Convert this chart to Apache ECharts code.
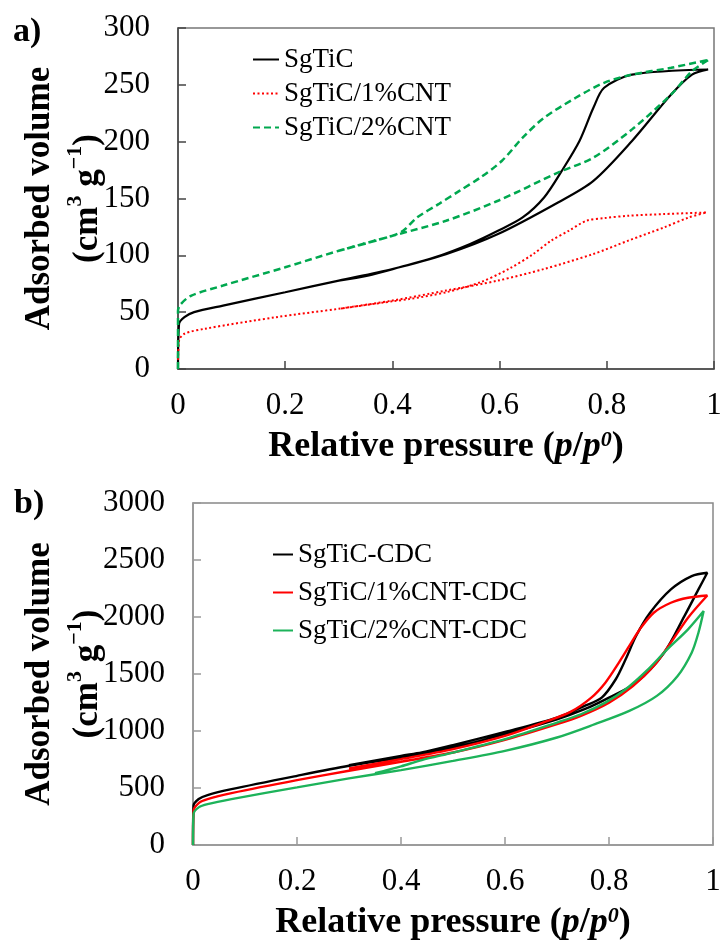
<!DOCTYPE html>
<html>
<head>
<meta charset="utf-8">
<script src="https://cdn.jsdelivr.net/npm/echarts@6/dist/echarts.min.js"></script>
<style>
html,body{margin:0;padding:0;background:#fff;}
#chart{width:723px;height:944px;}
</style>
</head>
<body>
<div id="chart"></div>
<script>
// ---------- Panel a data: [relative pressure, adsorbed volume] ----------
const sgticAds = [[0,0],[0.002,39.8],[0.012,45.6],[0.03,50],[0.084,55.8],[0.2,67.5],[0.3,77.8],[0.4,88],[0.5,101],[0.597,118.7],[0.709,146.5],[0.775,165.5],[0.847,200.6],[0.92,241.5],[0.959,259],[0.989,263.5]];
const sgticDes = [[0.989,263.5],[0.847,259],[0.795,247.4],[0.775,229.8],[0.749,200.6],[0.716,174.3],[0.683,150.9],[0.643,133.3],[0.597,121.6],[0.545,110],[0.479,98.2],[0.413,89.5],[0.354,82.2],[0.3,77.8]];
const cnt1Ads = [[0,0],[0.002,25],[0.012,31],[0.05,35.4],[0.183,45.6],[0.3,53],[0.4,60.2],[0.5,69],[0.597,77.8],[0.683,88],[0.775,101.2],[0.84,112.9],[0.907,124.6],[0.953,133.3],[0.986,137.7]];
const cnt1Des = [[0.986,137.7],[0.907,136.3],[0.84,134.8],[0.795,132.7],[0.762,130.4],[0.729,121.6],[0.696,112.9],[0.663,101.2],[0.617,88],[0.564,76.3],[0.5,67.5],[0.433,61.7],[0.4,59.6],[0.3,53]];
const cnt2Ads = [[0,0],[0.0,51],[0.005,57],[0.025,64.6],[0.084,73.4],[0.2,89.5],[0.3,104],[0.4,117.2],[0.5,130.4],[0.597,148],[0.709,172.8],[0.775,186],[0.847,210.8],[0.92,241.5],[0.959,262],[0.991,272.2]];
const cnt2Des = [[0.991,272.2],[0.92,265],[0.847,259],[0.795,251.8],[0.742,238.6],[0.683,221],[0.643,203.5],[0.604,183],[0.564,168.4],[0.525,156.7],[0.486,145],[0.446,133.3],[0.42,121.6],[0.4,117.2],[0.3,104]];

// ---------- Panel b data ----------
const cdcAds = [[0,0],[0.001,344],[0.011,403],[0.028,438],[0.074,490],[0.2,607],[0.3,695],[0.4,768],[0.5,855],[0.6,972],[0.7,1103],[0.753,1191],[0.8,1293],[0.852,1424],[0.906,1687],[0.945,2008],[0.972,2242],[0.989,2388]];
const cdcDes = [[0.989,2388],[0.959,2359],[0.919,2242],[0.879,2037],[0.852,1833],[0.832,1629],[0.813,1454],[0.786,1293],[0.753,1220],[0.7,1118],[0.6,992],[0.5,876],[0.44,811],[0.4,782],[0.3,700]];
const cdc1Ads = [[0,0],[0.001,300],[0.011,368],[0.028,403],[0.074,455],[0.2,569],[0.3,651],[0.4,730],[0.5,811],[0.6,922],[0.7,1060],[0.746,1133],[0.8,1249],[0.846,1395],[0.886,1570],[0.919,1775],[0.952,1994],[0.989,2189]];
const cdc1Des = [[0.989,2189],[0.952,2169],[0.919,2125],[0.886,2037],[0.859,1891],[0.839,1746],[0.819,1600],[0.793,1424],[0.766,1293],[0.726,1168],[0.673,1074],[0.6,957],[0.5,841],[0.4,753],[0.3,671]];
const cdc2Ads = [[0,0],[0.001,271],[0.011,330],[0.028,359],[0.074,403],[0.2,505],[0.3,584],[0.4,657],[0.5,738],[0.6,826],[0.7,943],[0.773,1060],[0.839,1176],[0.892,1308],[0.932,1483],[0.959,1687],[0.972,1862],[0.982,2052]];
const cdc2Des = [[0.982,2052],[0.952,1892],[0.912,1716],[0.872,1527],[0.832,1366],[0.793,1249],[0.746,1147],[0.7,1074],[0.6,928],[0.5,811],[0.44,745],[0.4,690],[0.35,630]];

const namesA = ['SgTiC','SgTiC/1%CNT','SgTiC/2%CNT'];
const namesB = ['SgTiC-CDC','SgTiC/1%CNT-CDC','SgTiC/2%CNT-CDC'];

const FONT = 'Liberation Serif';
const chart = echarts.init(document.getElementById('chart'));

function xAxisCfg(gridIndex, lineColor){
  return {
    type:'value', gridIndex, min:0, max:1, interval:0.2,
    axisLine:{show:true, onZero:false, lineStyle:{color:lineColor, width:1.5}},
    axisTick:{show:true, inside:true, length:8, lineStyle:{color:lineColor, width:1.5}},
    splitLine:{show:false},
    axisLabel:{color:'#000', fontFamily:FONT, fontSize:31, margin:21},
    name:'{b|Relative pressure (}{i|p}{b|/}{i|p}{s|0}{b|)}',
    nameLocation:'middle', nameGap:60, nameMoveOverlap:false,
    nameTextStyle:{
      rich:{
        b:{fontFamily:FONT, fontWeight:'bold', fontSize:36, color:'#000'},
        i:{fontFamily:FONT, fontWeight:'bold', fontStyle:'italic', fontSize:36, color:'#000'},
        s:{fontFamily:FONT, fontWeight:'bold', fontStyle:'italic', fontSize:22, color:'#000', verticalAlign:'top', padding:[0,0,14,0]}
      }
    }
  };
}
function yAxisCfg(gridIndex, max, interval, lineColor, gap){
  return {
    type:'value', gridIndex, min:0, max, interval,
    axisLine:{show:true, lineStyle:{color:lineColor, width:1.5}},
    axisTick:{show:true, inside:true, length:8, lineStyle:{color:lineColor, width:1.5}},
    splitLine:{show:false},
    axisLabel:{color:'#000', fontFamily:FONT, fontSize:31, margin:28, formatter:(v)=>String(v)},
    name:'{t|Adsorbed volume}\n{t|(cm}{s|3}{t| g}{s|\u22121}{t|)}',
    nameLocation:'middle', nameRotate:90, nameGap:gap, nameMoveOverlap:false,
    nameTextStyle:{
      lineHeight:48,
      rich:{
        t:{fontFamily:FONT, fontWeight:'bold', fontSize:35, color:'#000', lineHeight:48},
        s:{fontFamily:FONT, fontWeight:'bold', fontSize:22, color:'#000', verticalAlign:'top', lineHeight:48, padding:[0,0,14,0]}
      }
    }
  };
}
function loop(a,d){ return a.concat(d.slice(1)); }

const legendBase = {
  orient:'vertical', padding:0, itemHeight:14,
  itemStyle:{opacity:0, borderWidth:0},
  textStyle:{fontFamily:FONT, fontSize:27, color:'#000', lineHeight:27}
};

const option = {
  backgroundColor:'#fff',
  animation:false,
  title:[
    {text:'a)', left:8, top:10, textStyle:{fontFamily:FONT, fontWeight:'bold', fontSize:34, color:'#000'}},
    {text:'b)', left:9, top:482, textStyle:{fontFamily:FONT, fontWeight:'bold', fontSize:34, color:'#000'}}
  ],
  grid:[
    {left:178, right:9, top:28, height:341, show:true, borderColor:'#777', borderWidth:1.5, backgroundColor:'transparent', outerBoundsMode:'none', containLabel:false},
    {left:193, right:10, top:503, height:342, show:true, borderColor:'#888', borderWidth:1.5, backgroundColor:'transparent', outerBoundsMode:'none', containLabel:false}
  ],
  xAxis:[xAxisCfg(0,'#444'), xAxisCfg(1,'#999')],
  yAxis:[yAxisCfg(0,300,50,'#444',66), yAxisCfg(1,3000,500,'#999',81)],
  legend:[
    Object.assign({}, legendBase, {data:namesA, left:252, top:46, itemWidth:26, itemGap:7}),
    Object.assign({}, legendBase, {data:namesB, left:272, top:541, itemWidth:20, itemGap:11})
  ],
  series:[
    {name:namesA[0], type:'line', xAxisIndex:0, yAxisIndex:0, data:loop(sgticAds,sgticDes), symbol:'none', smooth:0.3,
     lineStyle:{color:'#000', width:2.2}, itemStyle:{color:'#000'}},
    {name:namesA[1], type:'line', xAxisIndex:0, yAxisIndex:0, data:loop(cnt1Ads,cnt1Des), symbol:'none', smooth:0.3,
     lineStyle:{color:'#ff0000', width:2, type:[2,2.5]}, itemStyle:{color:'#ff0000'}},
    {name:namesA[2], type:'line', xAxisIndex:0, yAxisIndex:0, data:loop(cnt2Ads,cnt2Des), symbol:'none', smooth:0.3,
     lineStyle:{color:'#00a84f', width:2.5, type:[7,4]}, itemStyle:{color:'#00a84f'}},
    {name:namesB[0], type:'line', xAxisIndex:1, yAxisIndex:1, data:loop(cdcAds,cdcDes), symbol:'none', smooth:0.3,
     lineStyle:{color:'#000', width:2.4}, itemStyle:{color:'#000'}},
    {name:namesB[1], type:'line', xAxisIndex:1, yAxisIndex:1, data:loop(cdc1Ads,cdc1Des), symbol:'none', smooth:0.3,
     lineStyle:{color:'#ff0000', width:2.4}, itemStyle:{color:'#ff0000'}},
    {name:namesB[2], type:'line', xAxisIndex:1, yAxisIndex:1, data:loop(cdc2Ads,cdc2Des), symbol:'none', smooth:0.3,
     lineStyle:{color:'#1db35a', width:2.4}, itemStyle:{color:'#1db35a'}}
  ]
};
chart.setOption(option);
</script>
</body>
</html>
